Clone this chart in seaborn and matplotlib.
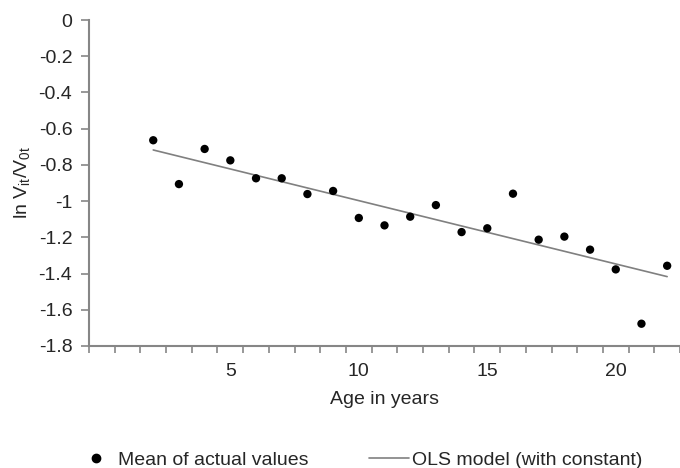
import numpy as np
import pandas as pd
import matplotlib
matplotlib.use("Agg")
import matplotlib.pyplot as plt
import seaborn as sns
from matplotlib.lines import Line2D

ages = [2, 3, 4, 5, 6, 7, 8, 9, 10, 11, 12, 13, 14, 15, 16, 17, 18, 19, 20, 21, 22]
mean_values = [-0.664, -0.906, -0.712, -0.775, -0.874, -0.874, -0.961, -0.944,
               -1.093, -1.134, -1.086, -1.022, -1.171, -1.150, -0.959, -1.213,
               -1.196, -1.268, -1.377, -1.677, -1.357]
y_ticks = [0, -0.2, -0.4, -0.6, -0.8, -1, -1.2, -1.4, -1.6, -1.8]
y_tick_labels = ["0", "-0.2", "-0.4", "-0.6", "-0.8", "-1", "-1.2", "-1.4", "-1.6", "-1.8"]
x_tick_labels = [5, 10, 15, 20]

df = pd.DataFrame({"age": ages, "value": mean_values})

sns.set_style("white")
plt.rcParams["font.family"] = ["Liberation Sans", "DejaVu Sans"]
plt.rcParams["mathtext.default"] = "regular"
FS = 14

fig = plt.figure(figsize=(6.8, 4.68), dpi=100)
ax = fig.add_axes([89 / 680, 1 - 346 / 468, 1 - 89 / 680, (346 - 20) / 468])

sns.regplot(data=df, x="age", y="value", scatter=False, ci=None, truncate=True,
            line_kws={"color": "#808080", "lw": 1.2}, ax=ax)
sns.scatterplot(data=df, x="age", y="value", color="black", s=36, edgecolor="none",
                ax=ax, zorder=3)

ax.set_xlim(-0.5, 22.5)
ax.set_ylim(-1.8, 0)
ax.set_yticks(y_ticks)
ax.set_yticklabels(y_tick_labels, fontsize=FS)
ax.set_xticks(x_tick_labels)
ax.set_xticklabels([str(v) for v in x_tick_labels], fontsize=FS)
ax.set_xticks(np.arange(-0.5, 23, 1.0), minor=True)

gray = "#868686"
for s in ["top", "right"]:
    ax.spines[s].set_visible(False)
for s in ["left", "bottom"]:
    ax.spines[s].set_color(gray)
    ax.spines[s].set_linewidth(1.5)
ax.tick_params(axis="y", which="major", direction="out", length=6, width=1.2,
               color=gray, left=True, pad=6)
ax.tick_params(axis="x", which="major", length=0, pad=12)
ax.tick_params(axis="x", which="minor", direction="out", length=5, width=1.2,
               color=gray, bottom=True)

ax.set_xlabel("Age in years", fontsize=FS, labelpad=8)
ax.set_ylabel(r"ln V$_{it}$/V$_{0t}$", fontsize=FS, labelpad=5)

handles = [Line2D([], [], marker="o", color="black", ls="none", markersize=6),
           Line2D([], [], color="#808080", lw=1.2)]
fig.legend(handles, ["Mean of actual values", "OLS model (with constant)"],
           loc="center", bbox_to_anchor=(0.528, 1 - 460 / 468), ncol=2,
           frameon=False, fontsize=FS, handlelength=2.06, handletextpad=0.15,
           columnspacing=3.1, borderpad=0, borderaxespad=0)

fig.savefig("out.png", dpi=100)
